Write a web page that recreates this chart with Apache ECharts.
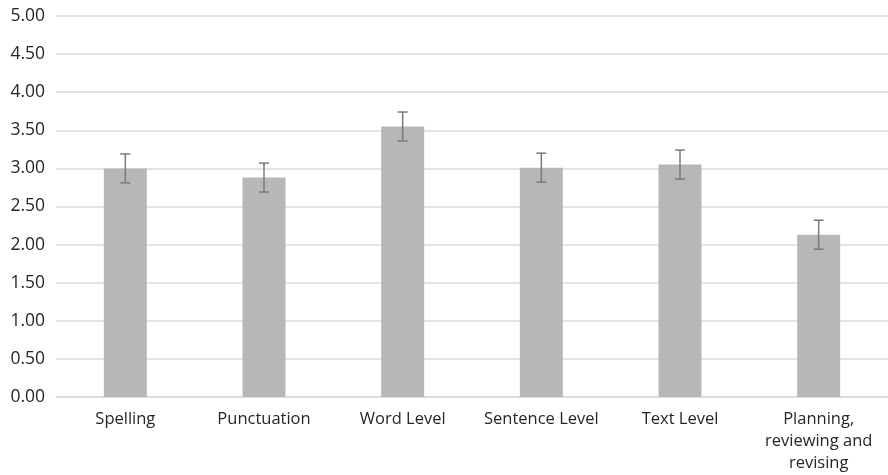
<!DOCTYPE html>
<html><head><meta charset="utf-8">
<script src="https://cdn.jsdelivr.net/npm/echarts@6/dist/echarts.min.js"></script>
<style>html,body{margin:0;padding:0;background:#fff}#c{width:888px;height:475px}</style>
</head><body><div id="c"></div>
<script>
var categories = ['Spelling', 'Punctuation', 'Word Level', 'Sentence Level', 'Text Level', 'Planning,\nreviewing and\nrevising'];
var means = [3.00, 2.88, 3.55, 3.01, 3.05, 2.13];
var errors = [0.19, 0.19, 0.19, 0.19, 0.19, 0.19];

var chart = echarts.init(document.getElementById('c'));
var errData = means.map(function (m, i) { return [i, m - errors[i], m + errors[i]]; });
chart.setOption({
  animation: false,
  grid: { left: 56, right: 0, top: 16, bottom: 78 },
  xAxis: {
    type: 'category', data: categories,
    axisLine: { lineStyle: { color: '#d9d9d9', width: 1.5 } },
    axisTick: { show: false },
    axisLabel: { color: '#262626', fontSize: 16.5, fontFamily: 'Open Sans', lineHeight: 22, margin: 11, interval: 0 }
  },
  yAxis: {
    type: 'value', min: 0, max: 5, interval: 0.5,
    axisLine: { show: false }, axisTick: { show: false },
    axisLabel: { color: '#262626', fontSize: 17.5, fontFamily: 'Open Sans', margin: 11,
      formatter: function (v) { return v.toFixed(2); } },
    splitLine: { lineStyle: { color: '#d9d9d9', width: 1.5 } }
  },
  series: [{
    type: 'bar', data: means, barWidth: '31%',
    itemStyle: { color: '#b7b7b7' }
  }, {
    type: 'custom', data: errData, z: 10,
    renderItem: function (params, api) {
      var x = api.value(0);
      var lo = api.coord([x, api.value(1)]);
      var hi = api.coord([x, api.value(2)]);
      var hw = 5;
      var st = { stroke: '#7a7a7a', lineWidth: 1.5 };
      return { type: 'group', children: [
        { type: 'line', shape: { x1: lo[0], y1: lo[1], x2: hi[0], y2: hi[1] }, style: st },
        { type: 'line', shape: { x1: lo[0] - hw, y1: lo[1], x2: lo[0] + hw, y2: lo[1] }, style: st },
        { type: 'line', shape: { x1: hi[0] - hw, y1: hi[1], x2: hi[0] + hw, y2: hi[1] }, style: st }
      ]};
    }
  }]
});
</script></body></html>
